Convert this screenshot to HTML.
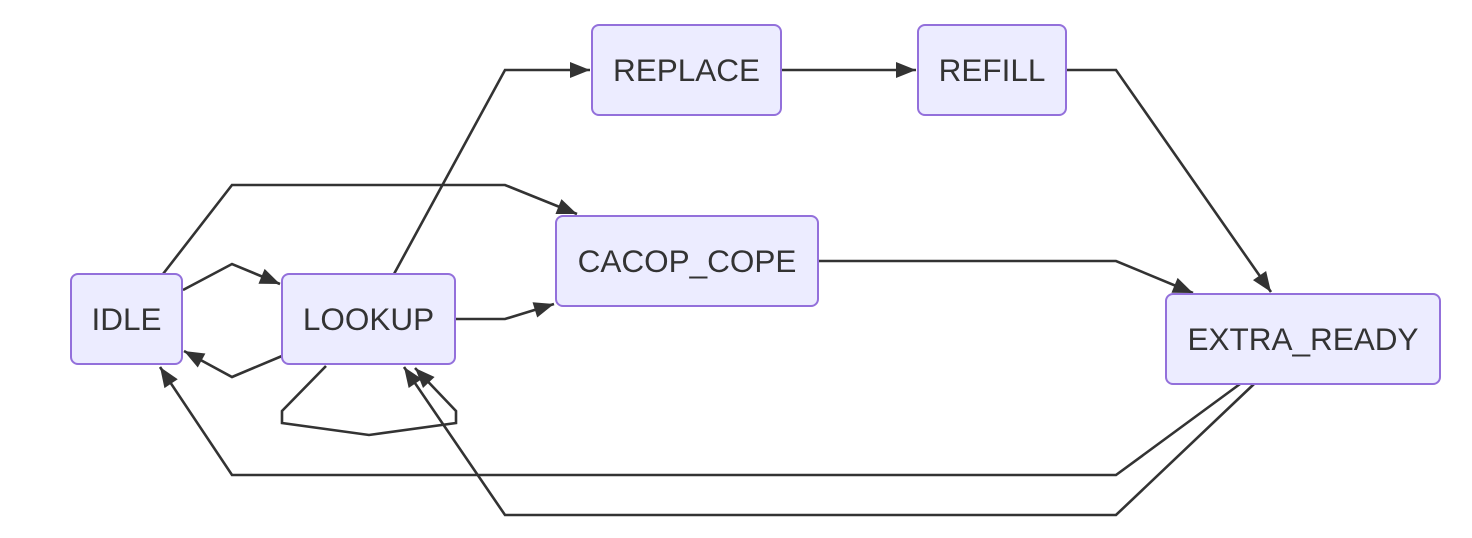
<!DOCTYPE html>
<html><head><meta charset="utf-8"><style>
body{margin:0;background:#fff;width:1472px;height:538px;overflow:hidden}
svg{position:absolute;left:0;top:0}
text{font-family:"Liberation Sans",sans-serif;font-size:31.5px;fill:#333;text-anchor:middle;dominant-baseline:central}
rect{fill:#ececff;stroke:#9370db;stroke-width:2}
path.e{fill:none;stroke:#333;stroke-width:2.6}
</style></head><body>
<svg width="1472" height="538">
<defs><marker id="a" viewBox="-20 -10 24 20" refX="2" refY="0" markerWidth="24" markerHeight="20" markerUnits="userSpaceOnUse" orient="auto"><path d="M-18,-8 L2,0 L-18,8 z" style="fill:#333;stroke:none"/></marker></defs>
<path class="e" d="M183,290 L232,264 L280,284" marker-end="url(#a)"/>
<path class="e" d="M282,356 L232,377 L184,351" marker-end="url(#a)"/>
<path class="e" d="M163,274 L232,185 L505,185 L577,214" marker-end="url(#a)"/>
<path class="e" d="M455,319 L505,319 L554,304" marker-end="url(#a)"/>
<path class="e" d="M394,274 L505,70 L590,70" marker-end="url(#a)"/>
<path class="e" d="M781,70 L916,70" marker-end="url(#a)"/>
<path class="e" d="M1066,70 L1116,70 L1271,292" marker-end="url(#a)"/>
<path class="e" d="M818,261 L1116,261 L1193,293" marker-end="url(#a)"/>
<path class="e" d="M1240,384 L1116,475 L232,475 L160,367" marker-end="url(#a)"/>
<path class="e" d="M1254,384 L1116,515 L505,515 L404,367" marker-end="url(#a)"/>
<path class="e" d="M326,366 L282,411 L282,423 L369,435 L456,423 L456,411 L415,368" marker-end="url(#a)"/>
<rect x="71" y="274" width="111" height="90" rx="7"/><text x="126.5" y="319">IDLE</text>
<rect x="282" y="274" width="173" height="90" rx="7"/><text x="368.5" y="319">LOOKUP</text>
<rect x="556" y="216" width="262" height="90" rx="7"/><text x="687" y="261">CACOP_COPE</text>
<rect x="592" y="25" width="189" height="90" rx="7"/><text x="686.5" y="70">REPLACE</text>
<rect x="918" y="25" width="148" height="90" rx="7"/><text x="992" y="70">REFILL</text>
<rect x="1166" y="294" width="274" height="90" rx="7"/><text x="1303" y="339">EXTRA_READY</text>
</svg>
</body></html>
